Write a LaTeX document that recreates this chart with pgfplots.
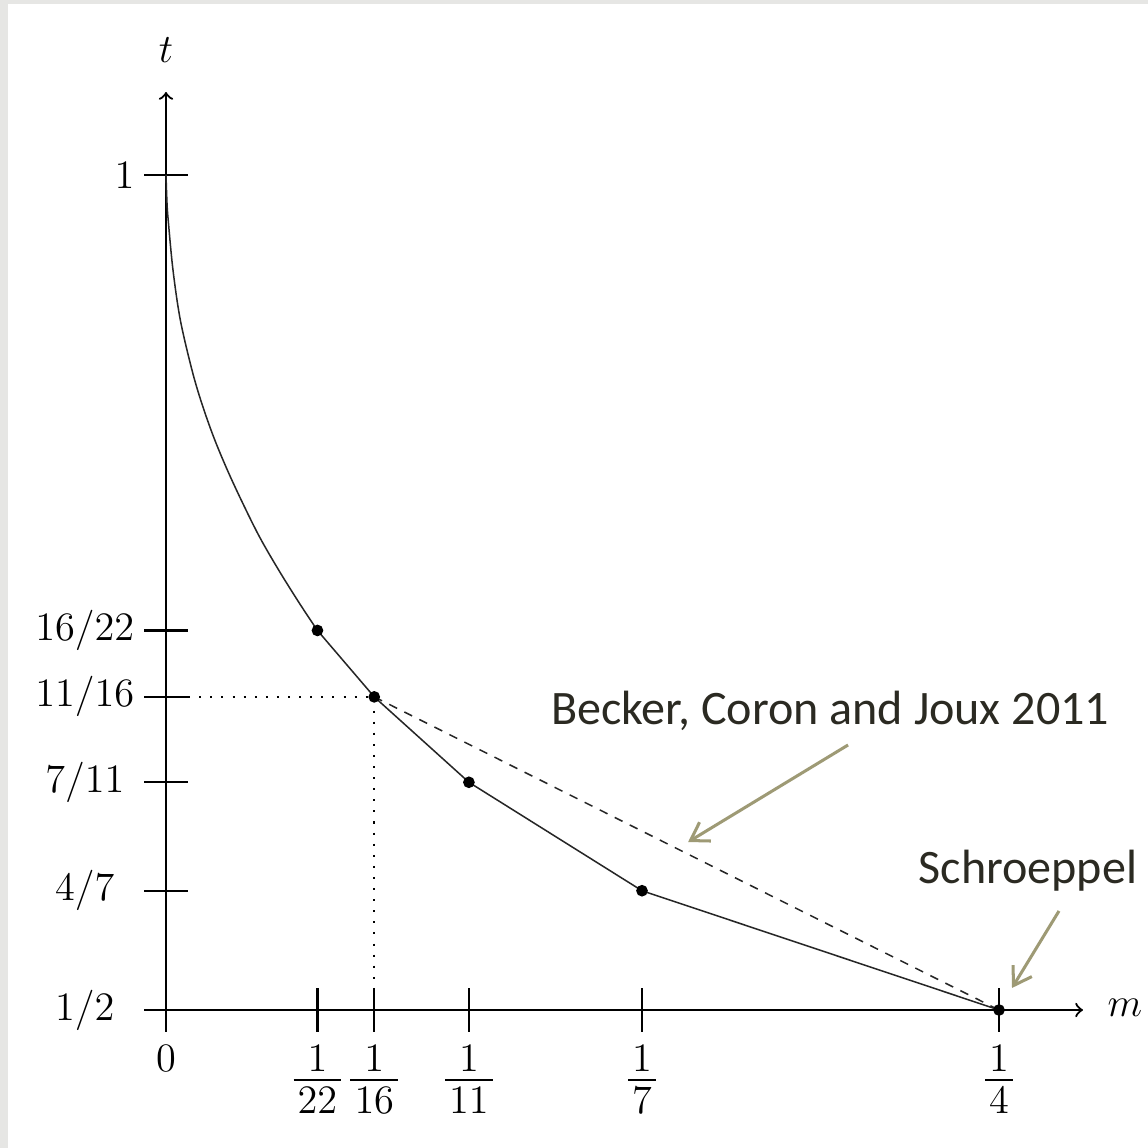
\RequirePackage{fix-cm}
\documentclass[border=0pt]{standalone}
\usepackage{amsmath}
\usepackage{fontspec}
\newfontfamily\calibri{Carlito}
\usepackage{pgfplots}
\usetikzlibrary{arrows.meta}
\pgfplotsset{compat=1.18}

\definecolor{arrowolive}{HTML}{9E9A75}
\definecolor{notetext}{HTML}{2B2A22}
\definecolor{paper}{HTML}{E6E6E4}

% fraction with full size digits, stacked tightly
\newcommand\tfr[2]{\genfrac{}{}{0.55pt}{1}%
  {\displaystyle #1\rule[-1.9pt]{0pt}{1.9pt}}%
  {\displaystyle\kern1.2pt #2\kern1.2pt\rule{0pt}{9.1pt}}}

\begin{document}
\begin{tikzpicture}
% page background and white sheet
\fill[paper] (-1.7352,-1.4425) rectangle (10.2648,10.5575);
\fill[white] (-1.6516,-1.4425) rectangle (10.2648,10.5157);

\begin{axis}[
    at={(0,0)}, anchor=south west,
    x=34.83cm, y=17.456cm,
    xmin=0, xmax=0.2752, ymin=0.5, ymax=1.0497,
    axis lines=left,
    x axis line style={-to, line width=0.65pt},
    y axis line style={-to, line width=0.65pt},
    clip=false,
    tick align=center,
    major tick length=0.45cm,
    tick style={line width=0.65pt, black},
    font=\fontsize{12}{14}\selectfont,
    xtick={0,0.0454545,0.0625,0.0909091,0.1428571,0.25},
    xticklabels={$0$,$\tfr{1}{22}$,$\tfr{1}{16}$,$\tfr{1}{11}$,$\tfr{1}{7}$,$\tfr{1}{4}$},
    xticklabel style={yshift=-0.5pt},
    ytick={0.5,0.5714286,0.6363636,0.6875,0.7272727,1},
    yticklabels={$1/2$,$4/7$,$7/11$,$11/16$,$16/22$,$\hphantom{16/2}1$},
    yticklabel style={anchor=center, xshift=-0.623cm},
    xlabel={$m$}, ylabel={$t$},
    xlabel style={at={(axis description cs:1.0458,0.002)}, anchor=center},
    ylabel style={at={(axis description cs:0,1.0458)}, anchor=center, rotate=-90},
]
% lower bound curve up to 1/22
\addplot[black!85, line width=0.45pt, smooth, tension=0.55] coordinates {
    (0,1.0)(0.0003,0.9832)(0.00066,0.9731)(0.0021,0.9431)(0.0043,0.9132)
    (0.0078,0.8832)(0.0107,0.8635)(0.0143,0.8431)(0.0184,0.8234)
    (0.0230,0.8036)(0.0281,0.7832)(0.0338,0.7635)(0.0400,0.7437)
    (0.0454545,0.7272727)};
% piecewise linear part with points
\addplot[black!85, line width=0.45pt, mark=*, mark size=1.5pt,
    mark options={fill=black, draw=black}] coordinates {
    (0.0454545,0.7272727)(0.0625,0.6875)(0.0909091,0.6363636)
    (0.1428571,0.5714286)(0.25,0.5)};
% Becker, Coron and Joux
\addplot[black!85, line width=0.45pt, dash pattern=on 2.6pt off 2.4pt] coordinates {
    (0.0625,0.6875)(0.25,0.5)};
% dotted guides
\addplot[black, line width=0.6pt, dash pattern=on 0.6pt off 2.7pt] coordinates {
    (0,0.6875)(0.0625,0.6875)(0.0625,0.5)};

% annotations
\node[anchor=base, text=notetext, font=\calibri\fontsize{14.3}{17}\selectfont]
    at (axis cs:0.1993,0.6707) {Becker, Coron and Joux 2011};
\draw[arrowolive, line width=0.9pt, -{Straight Barb[length=1.8mm, width=2.3mm]}]
    (axis cs:0.2047,0.6587) -- (axis cs:0.1567,0.6006);
\node[anchor=base, text=notetext, font=\calibri\fontsize{14.3}{17}\selectfont]
    at (axis cs:0.2587,0.5760) {Schroeppel};
\draw[arrowolive, line width=0.9pt, -{Straight Barb[length=1.8mm, width=2.3mm]}]
    (axis cs:0.2680,0.5593) -- (axis cs:0.2539,0.5132);
\end{axis}

\pgfresetboundingbox
\path[use as bounding box] (-1.7352,-1.4425) rectangle (10.2648,10.5575);
\end{tikzpicture}
\end{document}
